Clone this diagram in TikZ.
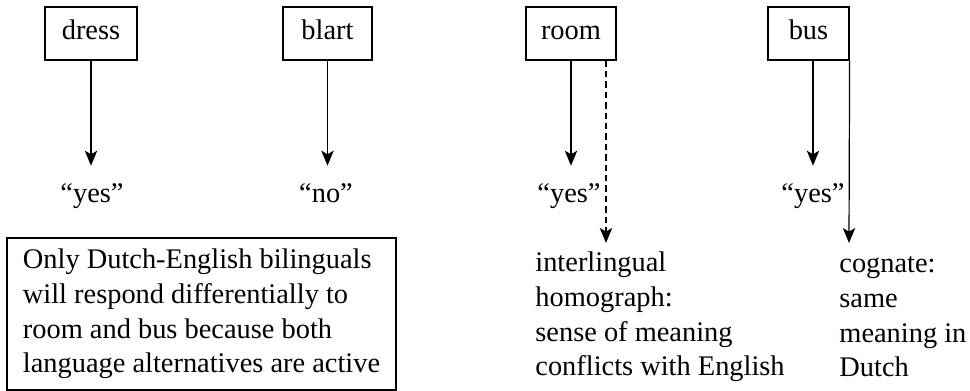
\documentclass[tikz,border=0pt]{standalone}
\usepackage{fontspec}
\setmainfont{Liberation Serif}
\usetikzlibrary{arrows.meta}

\tikzset{
  wordbox/.style={draw, line width=0.6pt, minimum height=26.5pt, inner sep=0pt,
                  text height=1.55ex, text depth=0.3ex},
  answer/.style={inner sep=0pt, anchor=base},
  textblock/.style={inner sep=0pt, align=left, anchor=west},
  link/.style={line width=0.6pt, -{Stealth[length=7.5pt,width=6.2pt,inset=1.8pt]}},
  tolabel/.style={link, shorten >=8.5pt},
  dashlink/.style={link, dash pattern=on 3.2pt off 2pt},
}

\begin{document}
\begin{tikzpicture}[x=0.5pt, y=-0.5pt, font=\fontsize{14.2}{17.3}\selectfont]
  \useasboundingbox (0,0) rectangle (970,391);

  % stimulus words
  \node[wordbox, minimum width=46pt]   (dress) at (91,33.5)    {dress};
  \node[wordbox, minimum width=44.5pt] (blart) at (327.5,33.5) {blart};
  \node[wordbox, minimum width=45pt]   (room)  at (571,33.5)   {room};
  \node[wordbox, minimum width=40.5pt] (bus)   at (808.5,33.5) {bus};

  % responses
  \node[answer] (ydress) at (92,202)    {``yes''};
  \node[answer] (nblart) at (326,202)   {``no''};
  \node[answer] (yroom)  at (569,202)   {``yes''};
  \node[answer] (ybus)   at (813,202)   {``yes''};

  % explanation blocks
  \node[draw, line width=0.6pt, minimum width=194.5pt, minimum height=76pt,
        inner sep=0pt, align=left] (note) at (201.5,314)
    {Only Dutch-English bilinguals\\
     will respond differentially to\\
     room and bus because both\\
     language alternatives are active};
  \node[textblock] (homograph) at (535,317)
    {interlingual\\ homograph:\\ sense of meaning\\ conflicts with English};
  \node[textblock] (cognate) at (839,317)
    {cognate:\\ same\\ meaning in\\ Dutch};

  % end points of the long connectors
  \coordinate (homtip) at (606,243);
  \coordinate (cogtip) at (849,243);

  % connectors
  \draw[tolabel] (dress.south) -- (dress.south |- ydress.north);
  \draw[tolabel] (blart.south) -- (blart.south |- nblart.north);
  \draw[tolabel] (room.south) -- (room.south |- yroom.north);
  \draw[tolabel] (ybus.north |- bus.south) -- (ybus.north);
  \draw[dashlink] (homtip |- room.south) -- (homtip);
  \draw[link] (bus.south east) -- (cogtip);
\end{tikzpicture}
\end{document}
